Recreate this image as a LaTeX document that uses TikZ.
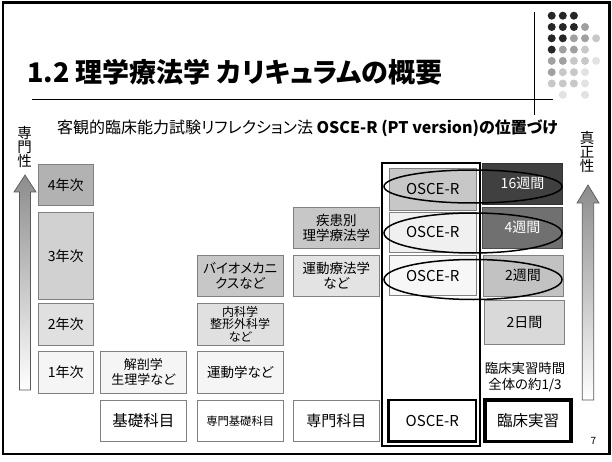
\documentclass[tikz,border=0pt]{standalone}
\usepackage{fontspec}
\usetikzlibrary{shapes.geometric}
\setmainfont{Noto Sans CJK JP}[RawFeature={+palt}]
\definecolor{dotA}{HTML}{262626}
\definecolor{dotB}{HTML}{A0A0A0}
\definecolor{dotC}{HTML}{C8C8C8}
\definecolor{dotD}{HTML}{E2E2E2}
\definecolor{edge}{HTML}{808080}
\tikzset{
  cbox/.style 2 args={draw=edge, line width=0.7pt, minimum width=#1, minimum height=#2,
    inner sep=1pt, align=center, font=\fontsize{14}{16}\selectfont},
  ring/.style={draw=black, line width=1.5pt},
  upshaft/.style={draw=black!65, line width=0.7pt, top color=black!45, bottom color=white},
  vlabel/.style={inner sep=0pt, font=\fontsize{14.5}{15}\selectfont, align=center}
}
\begin{document}
\begin{tikzpicture}[x=1pt,y=-1pt]
\useasboundingbox (0,0) rectangle (612,462);
\fill[white] (0,0) rectangle (612,462);
% frame
\draw[line width=2.6pt] (3,2.5) rectangle (609.5,454);
% decorative dots
\foreach \c/\r/\col in {1/1/dotA,2/1/dotA,3/1/dotA,
  1/2/dotA,2/2/dotA,3/2/dotA,4/2/dotB,
  1/3/dotA,2/3/dotA,3/3/dotB,4/3/dotB,5/3/dotC,
  1/4/dotA,2/4/dotB,3/4/dotB,4/4/dotC,
  1/5/dotB,2/5/dotB,3/5/dotC,4/5/dotC,5/5/dotD,
  1/6/dotB,2/6/dotC,3/6/dotC,4/6/dotD,
  1/7/dotC,2/7/dotC,3/7/dotC,4/7/dotD,
  2/8/dotD,4/8/dotD}
  \fill[\col] ({551.7+11.1*(\c-1)},{15.7+11.3*(\r-1)}) circle (4);
% title and rules
\node[anchor=west, inner sep=0pt, font=\bfseries\fontsize{27}{29}\selectfont] (title) at (27,72) {1.2 理学療法学 カリキュラムの概要};
\coordinate (hl1) at (32,99); \coordinate (hl2) at (553,99);
\coordinate (vl1) at (534,12); \coordinate (vl2) at (534,115);
\draw[line width=0.8pt] (hl1) -- (hl2);
\draw[line width=0.8pt] (vl1) -- (vl2);
\node[anchor=west, inner sep=0pt, font=\fontsize{16}{18}\selectfont] (sub) at (57,128) {客観的臨床能力試験リフレクション法 \textbf{OSCE-R (PT version)の位置づけ}};
% side labels
\node[vlabel] (lv) at (24.5,147) {専\\[-1pt]門\\[-1pt]性};
\node[vlabel] (rv) at (587,152) {真\\[-1pt]正\\[-1pt]性};
% arrows
\path[upshaft] (25,175) -- (14,192) -- (19.5,192) -- (19.5,390) -- (30.5,390) -- (30.5,192) -- (36,192) -- cycle;
\path[upshaft] (588,185) -- (577,203) -- (582.3,203) -- (582.3,400) -- (593.7,400) -- (593.7,203) -- (599,203) -- cycle;
% column 1
\node[cbox={55pt}{41.4pt}, fill=black!30] (y4) at (65.8,185) {4年次};
\node[cbox={55pt}{86.7pt}, fill=black!18] (y3) at (65.8,255.7) {3年次};
\node[cbox={55pt}{41.7pt}, fill=black!12] (y2) at (65.8,324.2) {2年次};
\node[cbox={55pt}{41.6pt}, fill=black!4] (y1) at (65.8,372.5) {1年次};
% column 2
\node[cbox={86.7pt}{41.6pt}, fill=black!4, font=\fontsize{13}{15}\selectfont] (kb1) at (143.3,372.5) {解剖学\\生理学など};
\node[cbox={86.7pt}{41.7pt}, fill=white, font=\fontsize{15.5}{17}\selectfont] (kb) at (143.3,420.8) {基礎科目};
% column 3
\node[cbox={85.5pt}{40.3pt}, fill=black!22, font=\fontsize{13.5}{15.5}\selectfont] (sk3) at (240.2,275.8) {バイオメカニ\\クスなど};
\node[cbox={85.5pt}{41.7pt}, fill=black!12, font=\fontsize{12}{12.7}\selectfont] (sk2) at (240.2,324.2) {内科学\\整形外科学\\など};
\node[cbox={85.5pt}{41.6pt}, fill=black!4, font=\fontsize{13.5}{15}\selectfont] (sk1) at (240.2,372.5) {運動学など};
\node[cbox={85.5pt}{41.7pt}, fill=white, font=\fontsize{11.3}{13}\selectfont] (sk) at (240.2,420.8) {専門基礎科目};
% column 4
\node[cbox={86pt}{41pt}, fill=black!22, font=\fontsize{13.5}{15.5}\selectfont] (sm3) at (336.3,227.8) {疾患別\\理学療法学};
\node[cbox={86pt}{40.3pt}, fill=black!11, font=\fontsize{13.5}{15.5}\selectfont] (sm2) at (336.3,275.8) {運動療法学\\など};
\node[cbox={86pt}{41.7pt}, fill=white, font=\fontsize{15}{17}\selectfont] (sm) at (336.3,420.8) {専門科目};
% column 5 (OSCE-R)
\node[draw=black, line width=1.6pt, minimum width=98pt, minimum height=283pt, inner sep=0pt] (oscecol) at (431,304.5) {};
\node[cbox={86.7pt}{41.7pt}, fill=black!22, font=\fontsize{15}{17}\selectfont] (os3) at (432.7,189.2) {OSCE-R};
\node[cbox={86.7pt}{40pt}, fill=black!6, font=\fontsize{15}{17}\selectfont] (os2) at (432.7,232.3) {OSCE-R};
\node[cbox={86.7pt}{40pt}, fill=black!3, font=\fontsize{15}{17}\selectfont] (os1) at (432.7,275.7) {OSCE-R};
\node[cbox={87.3pt}{41.7pt}, draw=black, line width=2.4pt, fill=white, font=\fontsize{15}{17}\selectfont] (os) at (432.3,420.8) {OSCE-R};
% column 6 (clinical practice)
\node[cbox={80.4pt}{41pt}, draw=black!80, fill=black!75, text=white] (cp4) at (522.5,183.8) {16週間};
\node[cbox={80.4pt}{41pt}, draw=black!70, fill=black!56, text=white] (cp3) at (522.5,227.8) {4週間};
\node[cbox={80pt}{41pt}, fill=black!24] (cp2) at (523,275.5) {2週間};
\node[cbox={79.5pt}{44pt}, fill=black!15] (cp1) at (524.5,322) {2日間};
\node[align=center, inner sep=0pt, font=\fontsize{13.4}{15.7}\selectfont] (cpnote) at (525,377) {臨床実習時間\\全体の約1/3};
\node[cbox={86pt}{41.7pt}, draw=black, line width=3.2pt, fill=white, font=\fontsize{15.5}{17}\selectfont] (cp) at (528,420.8) {臨床実習};
% ellipses
\node[ring, ellipse, minimum width=178pt, minimum height=33pt, inner sep=0pt] (e1) at (473,186.5) {};
\node[ring, ellipse, minimum width=178pt, minimum height=40pt, inner sep=0pt] (e2) at (473,233) {};
\node[ring, ellipse, minimum width=178pt, minimum height=40pt, inner sep=0pt] (e3) at (473,279.5) {};
% page number
\node[inner sep=0pt, font=\fontsize{10}{12}\selectfont] (pg) at (593.3,441) {7};
\end{tikzpicture}
\end{document}
